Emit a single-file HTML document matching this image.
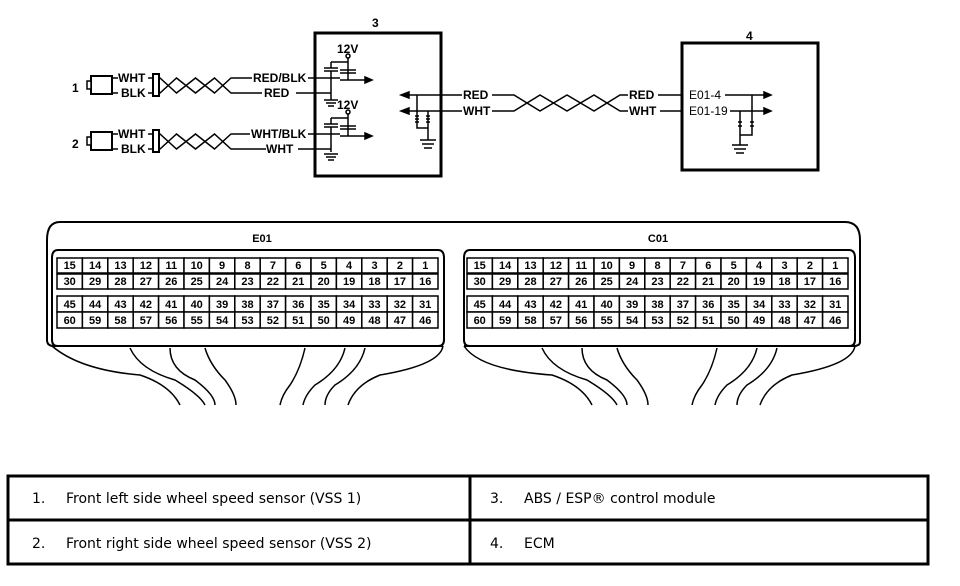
<!DOCTYPE html>
<html><head><meta charset="utf-8"><style>
html,body{margin:0;padding:0;background:#fff;}
svg{display:block;}
.t{font-family:"Liberation Sans",Arial,sans-serif;font-weight:bold;font-size:12px;fill:#000;}
.c{font-family:"Liberation Sans",Arial,sans-serif;font-weight:bold;font-size:11px;fill:#000;text-anchor:middle;}
.tb{font-family:"DejaVu Sans","Liberation Sans",sans-serif;font-size:14px;fill:#000;}
</style></head><body>
<svg width="960" height="586" viewBox="0 0 960 586" xmlns="http://www.w3.org/2000/svg">
<g stroke="#000" fill="none" stroke-width="1.5">
<!-- Sensor 1 -->
<rect x="91" y="76" width="21" height="18" stroke-width="2"/>
<rect x="87" y="81" width="4" height="8" fill="#fff"/>
<path d="M112 78H118M112 93H118"/>
<rect x="153" y="74" width="6" height="22" stroke-width="2"/>
<path d="M148 78H153M148 93H153"/>
<path d="M159 78H160L176.5 93L195.5 78L214.5 93L231 78H252M159 93H160L176.5 78L195.5 93L214.5 78L231 93H262"/>
<path d="M308 78H340M296 93H331"/>
<!-- Sensor 2 -->
<rect x="91" y="132" width="21" height="18" stroke-width="2"/>
<rect x="87" y="137" width="4" height="8" fill="#fff"/>
<path d="M112 134H118M112 149H118"/>
<rect x="153" y="130" width="6" height="22" stroke-width="2"/>
<path d="M148 134H153M148 149H153"/>
<path d="M159 134H160L176.5 149L195.5 134L214.5 149L231 134H250M159 149H160L176.5 134L195.5 149L214.5 134L231 149H266"/>
<path d="M308 134H340M298 149H331"/>
<!-- Box 3 -->
<rect x="315" y="33" width="126" height="143" stroke-width="3"/>
<path d="M348 58V80M340 70H356M340 73H356M331 62H348M331 62V68M324 68H338M324 71H338M331 71V100M324 100H338M326 103H336M328 106H334M340 80H365"/>
<path d="M348 114V136M340 126H356M340 129H356M331 118H348M331 118V124M324 124H338M324 127H338M331 127V152M324 154H338M326 157H336M328 160H334M340 136H365"/>
<circle cx="348" cy="56" r="2" fill="#fff"/>
<circle cx="348" cy="112" r="2" fill="#fff"/>
<path d="M365 77L372 80L365 83Z M365 133L372 136L365 139Z" fill="#000"/>
<path d="M402 95H462M402 111H462M417 95V128H428M428 111V140M420 140H436M422 144H434M424 148H432"/>
<path d="M409 92L401 95L409 98Z M409 108L401 111L409 114Z" fill="#000"/>
<path d="M415 116h4M415 119h4M415 122h4M426 116h4M426 119h4M426 122h4"/>
<!-- twisted to ECM -->
<path d="M492 95H514L540 111L567 95L594 111L620 95H628M492 111H514L540 95L567 111L594 95L620 111H628"/>
<path d="M658 95H682M660 111H682"/>
<!-- Box 4 -->
<rect x="682" y="43" width="136" height="127" stroke-width="3"/>
<path d="M725 95H765M730 111H765M752 95V135H740M740 111V145M732 145H748M734 149H746M736 153H744"/>
<path d="M764 92L771 95L764 98Z M764 108L771 111L764 114Z" fill="#000"/>
<path d="M738 122h4M738 126h4M750 122h4M750 126h4"/>
<!-- connectors outer -->
<path d="M60 222H845Q860 222 860 240V342Q860 346 853 346H464M47 240Q47 222 60 222M47 240V340Q47 346 54 346H443" stroke-width="2"/>
<path d="M58 250H438Q444 250 444 258V340Q444 346 438 346H58Q52 346 52 340V258Q52 250 58 250Z" stroke-width="2"/>
<path d="M470 250H849Q855 250 855 258V340Q855 346 849 346H470Q464 346 464 340V258Q464 250 470 250Z" stroke-width="2"/>
<path d="M52 346Q80 370 140 375Q170 385 180 405M130 348Q140 370 175 380Q200 395 205 405M170 348Q170 370 195 380Q215 395 215 405M205 348Q210 365 225 380Q236 395 236 405M305 348Q300 370 290 385Q282 395 280 405M345 348Q340 370 315 385Q305 395 303 405M365 348Q360 370 335 385Q325 395 325 405M443 346Q440 365 380 375Q355 385 348 405"/>
<path d="M464 346Q480 370 552 375Q582 385 592 405M542 348Q552 370 587 380Q612 395 617 405M582 348Q582 370 607 380Q627 395 627 405M617 348Q622 365 637 380Q648 395 648 405M717 348Q712 370 702 385Q694 395 692 405M757 348Q752 370 727 385Q717 395 715 405M777 348Q772 370 747 385Q737 395 737 405M855 346Q852 365 792 375Q767 385 760 405"/>
</g>
<g id="cells" stroke="#000" fill="#fff" stroke-width="1.5"></g>
<text class="t" x="372" y="27">3</text>
<text class="t" x="746" y="40">4</text>
<text class="t" x="72" y="92">1</text>
<text class="t" x="72" y="148">2</text>
<text class="t" x="118" y="82">WHT</text>
<text class="t" x="121" y="97">BLK</text>
<text class="t" x="118" y="138">WHT</text>
<text class="t" x="121" y="153">BLK</text>
<text class="t" x="253" y="82">RED/BLK</text>
<text class="t" x="264" y="97">RED</text>
<text class="t" x="251" y="138">WHT/BLK</text>
<text class="t" x="266" y="153">WHT</text>
<text class="t" x="337" y="53">12V</text>
<text class="t" x="337" y="109">12V</text>
<text class="t" x="463" y="99">RED</text>
<text class="t" x="463" y="115">WHT</text>
<text class="t" x="629" y="99">RED</text>
<text class="t" x="629" y="115">WHT</text>
<text class="t" x="689" y="99" style="font-weight:normal">E01-4</text>
<text class="t" x="689" y="115" style="font-weight:normal">E01-19</text>
<text class="c" x="262" y="242">E01</text>
<text class="c" x="658" y="242">C01</text>
<g stroke="#000" stroke-width="3" fill="none">
<rect x="8" y="476" width="920" height="88"/>
<path d="M8 520H928M470 476V564"/>
</g>
<text class="tb" x="32" y="503">1.</text><text class="tb" x="66" y="503">Front left side wheel speed sensor (VSS 1)</text>
<text class="tb" x="32" y="548">2.</text><text class="tb" x="66" y="548">Front right side wheel speed sensor (VSS 2)</text>
<text class="tb" x="490" y="503">3.</text><text class="tb" x="524" y="503">ABS / ESP® control module</text>
<text class="tb" x="490" y="548">4.</text><text class="tb" x="524" y="548">ECM</text>
<script>
(function(){
var g=document.getElementById('cells'),ns='http://www.w3.org/2000/svg';
var rows=[[258,15],[274,15],[296,16],[312,16]];
[57,467].forEach(function(x0){
 var w=25.4;
 rows.forEach(function(r,ri){
  for(var i=0;i<15;i++){
   var x=x0+i*w,n=(ri+1)*15-i;
   var rc=document.createElementNS(ns,'rect');
   rc.setAttribute('x',x);rc.setAttribute('y',r[0]);rc.setAttribute('width',w);rc.setAttribute('height',r[1]);
   g.appendChild(rc);
   var t=document.createElementNS(ns,'text');
   t.setAttribute('class','c');t.setAttribute('x',x+w/2);t.setAttribute('y',r[0]+r[1]-4);
   t.setAttribute('stroke','none');t.setAttribute('fill','#000');
   t.textContent=n;g.appendChild(t);
  }
 });
});
})();
</script>
</svg>
</body></html>
